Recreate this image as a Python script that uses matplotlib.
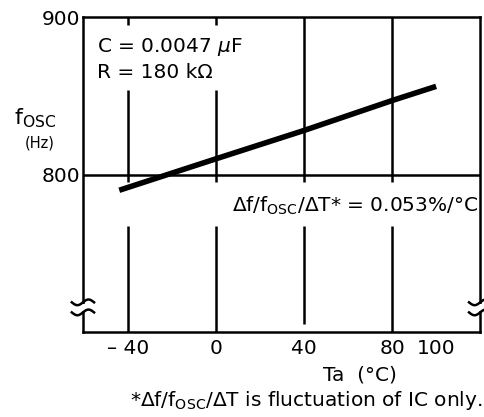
import numpy as np
import matplotlib
matplotlib.use("Agg")
import matplotlib.pyplot as plt
from matplotlib.patches import Rectangle

plt.rcParams['font.family'] = ['DejaVu Sans']
plt.rcParams['mathtext.fontset'] = 'dejavusans'

# data
temps = [-44, 0, 40, 80, 100]          # Ta (degC)
fosc = [790, 810, 828, 847, 856]        # fosc (Hz)

x_ticks = [-40, 0, 40, 80, 100]
x_tick_labels = ['– 40', '0', '40', '80', '100']
y_ticks = [800, 900]
y_tick_labels = ['800', '900']
grid_x = [-40, 0, 40, 80]

fs = 14.5

fig = plt.figure(figsize=(4.85, 4.17), dpi=100)
ax = fig.add_axes([0.171, 0.204, 0.819, 0.755])
ax.set_xlim(-60.5, 120)
ax.set_ylim(700, 900)

for s in ax.spines.values():
    s.set_linewidth(1.8)

ax.tick_params(length=0, labelsize=fs, pad=5)
ax.set_xticks(x_ticks)
ax.set_xticklabels(x_tick_labels)
ax.set_yticks(y_ticks)
ax.set_yticklabels(y_tick_labels)
ax.tick_params(axis='y', pad=2)

# grid with gaps where the text sits
lw = 1.8
ax.axhline(800, color='k', lw=lw)
for gx in grid_x:
    lo = 705 if gx == 40 else 700
    ax.vlines(gx, lo, 767, color='k', lw=lw)
    if gx in (-40, 0):
        ax.vlines(gx, 795, 854, color='k', lw=lw)
        ax.vlines(gx, 895, 900, color='k', lw=lw)
    else:
        ax.vlines(gx, 795, 900, color='k', lw=lw)

ax.plot(temps, fosc, color='k', lw=4, solid_capstyle='butt')

# text
ax.text(-54, 881, r'C = 0.0047 $\mu$F', fontsize=fs, va='center')
ax.text(-54, 865, 'R = 180 kΩ', fontsize=fs, va='center')
ax.text(119, 780, r'$\Delta$f/f$_{\mathrm{OSC}}$/$\Delta$T* = 0.053%/°C',
        fontsize=fs, va='center', ha='right')

fig.text(0.028, 0.717, r'f$_{\mathrm{OSC}}$', fontsize=16, va='center')
fig.text(0.05, 0.657, '(Hz)', fontsize=10.5, va='center')
fig.text(0.742, 0.101, 'Ta  (°C)', fontsize=fs, ha='center', va='center')
fig.text(0.995, 0.040,
         r'*$\Delta$f/f$_{\mathrm{OSC}}$/$\Delta$T is fluctuation of IC only.',
         fontsize=fs, ha='right', va='center')

# axis break marks on both sides
t = np.linspace(-np.pi, np.pi, 40)
for xa in (0.0, 1.0):
    ax.add_patch(Rectangle((xa - 0.01, 0.068), 0.02, 0.02, transform=ax.transAxes,
                           facecolor='white', edgecolor='none', clip_on=False, zorder=5))
    for ya in (0.094, 0.062):
        xs = xa + t / np.pi * 0.028
        ys = ya + np.sin(t) * 0.009
        ax.plot(xs, ys, color='k', lw=1.8, transform=ax.transAxes, clip_on=False, zorder=6)

fig.savefig('out.png', dpi=100)
